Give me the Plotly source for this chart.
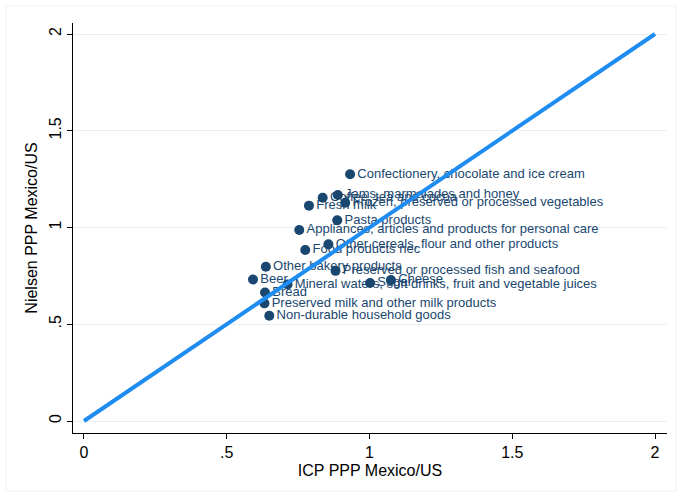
import plotly.graph_objects as go

# ICP vs Nielsen purchasing-power parities, Mexico relative to the US
categories = [
    "Confectionery, chocolate and ice cream",
    "Coffee, tea and cocoa",
    "Jams, marmalades and honey",
    "Fresh milk",
    "Frozen, preserved or processed vegetables",
    "Pasta products",
    "Appliances, articles and products for personal care",
    "Other cereals, flour and other products",
    "Food products nec",
    "Other bakery products",
    "Beer",
    "Preserved or processed fish and seafood",
    "Mineral waters, soft drinks, fruit and vegetable juices",
    "Sugar",
    "Cheese",
    "Bread",
    "Preserved milk and other milk products",
    "Non-durable household goods",
]
icp_ppp = [0.932, 0.836, 0.889, 0.788, 0.915, 0.887, 0.754, 0.856, 0.775,
           0.637, 0.592, 0.881, 0.713, 1.002, 1.075, 0.634, 0.632, 0.649]
nielsen_ppp = [1.275, 1.154, 1.168, 1.113, 1.128, 1.037, 0.987, 0.913, 0.884,
               0.797, 0.731, 0.776, 0.706, 0.713, 0.729, 0.664, 0.608, 0.544]

# 45-degree reference line
line_x = [0, 2]
line_y = [0, 2]

tick_vals = [0, 0.5, 1, 1.5, 2]
tick_text = ["0", ".5", "1", "1.5", "2"]

navy = "#1a476f"
font_family = "Liberation Sans, Arial, Helvetica, sans-serif"

fig = go.Figure()
fig.add_trace(go.Scatter(
    x=icp_ppp, y=nielsen_ppp, mode="markers+text",
    text=categories, textposition="middle right",
    textfont=dict(size=13, color=navy, family=font_family),
    marker=dict(size=10, color=navy),
    cliponaxis=False, showlegend=False, hoverinfo="text",
))
fig.add_trace(go.Scatter(
    x=line_x, y=line_y, mode="lines",
    line=dict(color="#1e8cf0", width=4),
    showlegend=False, hoverinfo="skip",
))

axis_common = dict(
    tickvals=tick_vals, ticktext=tick_text,
    ticks="outside", ticklen=5, tickcolor="#000000", tickwidth=1,
    showline=True, linecolor="#000000", linewidth=1,
    zeroline=False, mirror=False,
    tickfont=dict(size=16, color="#000000", family=font_family),
)

fig.update_xaxes(
    **axis_common, range=[-0.0385, 2.042], showgrid=False,
    title=dict(text="ICP PPP Mexico/US", standoff=4,
               font=dict(size=16, color="#000000", family=font_family)),
)
fig.update_yaxes(
    **axis_common, range=[-0.062, 2.057], tickangle=-90,
    showgrid=True, gridcolor="#e8eff2", gridwidth=1,
    title=dict(text="Nielsen PPP Mexico/US", standoff=4,
               font=dict(size=16, color="#000000", family=font_family)),
)

fig.update_layout(
    width=677, height=497,
    margin=dict(l=73, r=10, t=23, b=64),
    plot_bgcolor="white", paper_bgcolor="white",
    font=dict(family=font_family),
    shapes=[dict(type="rect", xref="paper", yref="paper",
                 x0=-0.1128, x1=1.0155, y0=-0.1415, y1=1.0415,
                 line=dict(color="#f0f0f0", width=1), layer="below")],
)

fig.write_html("out.html")
